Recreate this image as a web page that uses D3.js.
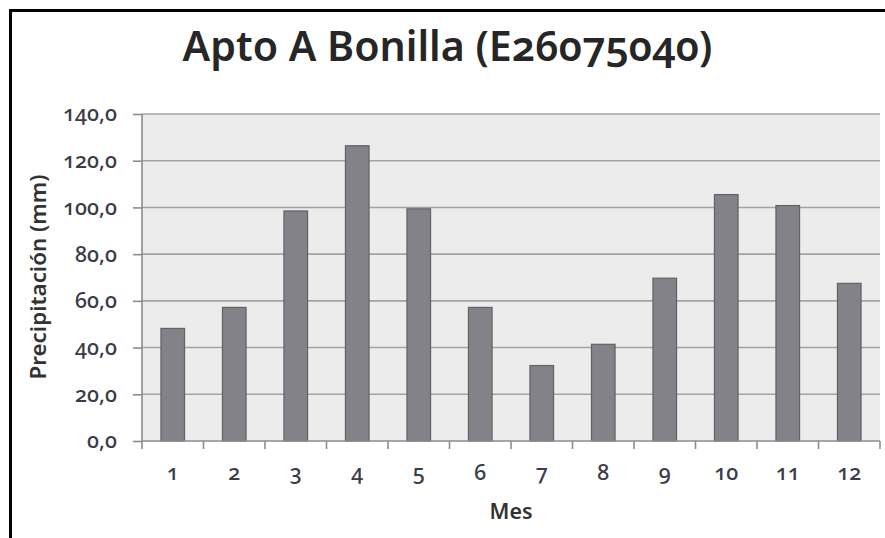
<!DOCTYPE html>
<html>
<head>
<meta charset="utf-8">
<script src="https://cdn.jsdelivr.net/npm/d3@7"></script>
<style>
  html, body { margin: 0; padding: 0; background: #fff; }
  svg { display: block; }
  .num { font-feature-settings: "onum" 1; font-variant-numeric: oldstyle-nums; }
</style>
</head>
<body>
<svg id="chart" width="885" height="538"></svg>
<script>
// Monthly precipitation, Apto A Bonilla station
const months = [1, 2, 3, 4, 5, 6, 7, 8, 9, 10, 11, 12];
const precipitation = [48.2, 57.2, 98.5, 126.4, 99.4, 57.2, 32.3, 41.4, 69.7, 105.5, 100.8, 67.5];
const yTicks = [0, 20, 40, 60, 80, 100, 120, 140];

const titleText = "Apto A Bonilla (E26075040)";
const yTitle = "Precipitación (mm)";
const xTitle = "Mes";

const fontFamily = "'Noto Sans', 'Open Sans', sans-serif";
const svg = d3.select("#chart");

// Scale a text element's font size so its rendered width equals `width`
function fitWidth(sel, width) {
  const node = sel.node();
  const fs = parseFloat(sel.attr("font-size"));
  const w = node.getComputedTextLength();
  if (w > 0) sel.attr("font-size", (fs * width / w).toFixed(2));
  return sel;
}

// Outer frame
svg.append("path")
  .attr("d", "M10.5,538 V10.5 H885")
  .attr("fill", "none")
  .attr("stroke", "#000")
  .attr("stroke-width", 3);

const plot = { left: 142, right: 880, top: 114, bottom: 441 };

const x = d3.scaleBand()
  .domain(months)
  .range([plot.left, plot.right])
  .paddingInner(0.6)
  .paddingOuter(0.3);

const y = d3.scaleLinear()
  .domain([0, 140])
  .range([plot.bottom, plot.top]);

// Plot background
svg.append("rect")
  .attr("x", plot.left)
  .attr("y", plot.top)
  .attr("width", plot.right - plot.left)
  .attr("height", plot.bottom - plot.top)
  .attr("fill", "#ececec");

// Horizontal gridlines
svg.append("g")
  .selectAll("line")
  .data(yTicks.filter(d => d > 0))
  .join("line")
  .attr("x1", plot.left)
  .attr("x2", plot.right)
  .attr("y1", d => y(d))
  .attr("y2", d => y(d))
  .attr("stroke", "#a3a3a3")
  .attr("stroke-width", 1.6);

// Bars
svg.append("g")
  .selectAll("rect")
  .data(months)
  .join("rect")
  .attr("x", (d) => x(d) + 0.5)
  .attr("y", (d, i) => y(precipitation[i]))
  .attr("width", x.bandwidth() - 1)
  .attr("height", (d, i) => y(0) - y(precipitation[i]))
  .attr("fill", "#838288")
  .attr("stroke", "#626166")
  .attr("stroke-width", 1.2);

// Tick label size, taken from the widest y label
const probe = svg.append("text")
  .attr("class", "num")
  .attr("font-family", fontFamily)
  .attr("font-size", 16)
  .attr("font-weight", 500)
  .text("140,0");
fitWidth(probe, 54);
const tickFont = +probe.attr("font-size");
probe.remove();

// Y axis
const yAxis = d3.axisLeft(y)
  .tickValues(yTicks)
  .tickSize(9)
  .tickPadding(16)
  .tickFormat(d => d3.format(".1f")(d).replace(".", ","));

const gy = svg.append("g")
  .attr("transform", `translate(${plot.left},0)`)
  .call(yAxis);
gy.select(".domain").attr("stroke", "#8c8c8c").attr("stroke-width", 1.6)
  .attr("d", `M0,${plot.top}V${plot.bottom}`);
gy.selectAll(".tick line").attr("stroke", "#8c8c8c").attr("stroke-width", 1.6);
gy.selectAll(".tick text")
  .attr("class", "num")
  .attr("fill", "#3b3b4a")
  .attr("font-family", fontFamily)
  .attr("font-size", tickFont)
  .attr("font-weight", 500);

// X axis with ticks between categories
const xEdges = d3.scaleLinear().domain([0, 12]).range([plot.left, plot.right]);
const gx = svg.append("g");
gx.append("line")
  .attr("x1", plot.left).attr("x2", plot.right)
  .attr("y1", plot.bottom).attr("y2", plot.bottom)
  .attr("stroke", "#8c8c8c").attr("stroke-width", 1.6);
gx.selectAll("line.tk")
  .data(d3.range(13))
  .join("line")
  .attr("class", "tk")
  .attr("x1", d => xEdges(d)).attr("x2", d => xEdges(d))
  .attr("y1", plot.bottom).attr("y2", plot.bottom + 8)
  .attr("stroke", "#8c8c8c").attr("stroke-width", 1.6);
gx.selectAll("text")
  .data(months)
  .join("text")
  .attr("class", "num")
  .attr("x", d => x(d) + x.bandwidth() / 2)
  .attr("y", 480)
  .attr("text-anchor", "middle")
  .attr("fill", "#3b3b4a")
  .attr("font-family", fontFamily)
  .attr("font-size", tickFont)
  .attr("font-weight", 500)
  .text(d => d);

// Title
const title = svg.append("text")
  .attr("class", "num")
  .attr("x", 447.5)
  .attr("y", 61)
  .attr("text-anchor", "middle")
  .attr("fill", "#262626")
  .attr("font-family", fontFamily)
  .attr("font-size", 38)
  .attr("font-weight", 600)
  .text(titleText);
fitWidth(title, 530);

// Axis titles
const yt = svg.append("text")
  .attr("transform", "translate(46,277) rotate(-90)")
  .attr("text-anchor", "middle")
  .attr("fill", "#333")
  .attr("font-family", fontFamily)
  .attr("font-size", 18)
  .attr("font-weight", 600)
  .text(yTitle);
fitWidth(yt, 205);

const xt = svg.append("text")
  .attr("x", (plot.left + plot.right) / 2)
  .attr("y", 519)
  .attr("text-anchor", "middle")
  .attr("fill", "#333")
  .attr("font-family", fontFamily)
  .attr("font-size", 18)
  .attr("font-weight", 600)
  .text(xTitle);
fitWidth(xt, 43);
</script>
</body>
</html>
